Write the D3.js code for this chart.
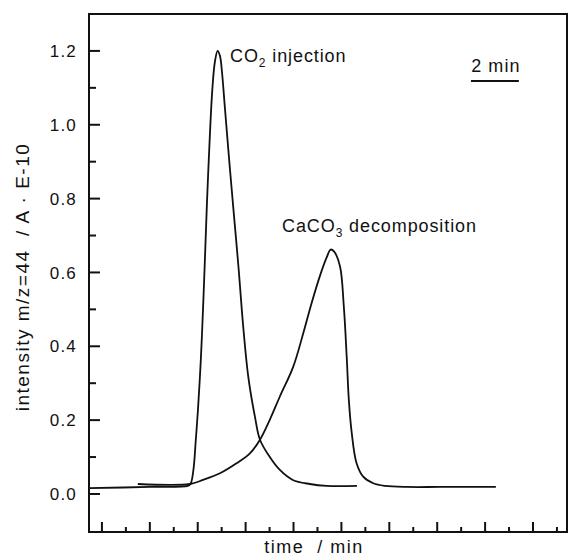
<!DOCTYPE html>
<html>
<head>
<meta charset="utf-8">
<script src="https://cdn.jsdelivr.net/npm/d3@7"></script>
<style>
  html, body { margin: 0; padding: 0; background: #fff; }
  svg { display: block; }
  text { font-family: "Liberation Sans", Arial, Helvetica, sans-serif; fill: #111; }
</style>
</head>
<body>
<svg id="chart" width="569" height="557"></svg>
<script>
// time in minutes, intensity in A·E-10
const co2Time = [-0.54, 2.0, 3.59, 3.70, 3.82, 3.92, 4.01, 4.13, 4.22, 4.30, 4.38, 4.50, 4.61, 4.72, 4.83,
                 4.93, 5.01, 5.13, 5.30, 5.48, 5.70, 5.90, 6.11, 6.39, 6.60, 7.01, 7.43, 7.97, 8.68, 9.39, 10.65];
const co2Value = [0.016, 0.019, 0.022, 0.027, 0.065, 0.147, 0.228, 0.364, 0.499, 0.635, 0.779, 0.961, 1.096, 1.172, 1.20,
                  1.186, 1.145, 1.050, 0.915, 0.779, 0.616, 0.453, 0.318, 0.209, 0.147, 0.100, 0.065, 0.038, 0.027, 0.022, 0.022];

const caco3Time = [1.50, 3.67, 4.22, 4.93, 5.62, 6.18, 6.60, 7.01, 7.43, 7.99, 8.41, 8.76, 9.10, 9.38, 9.55, 9.69,
                   9.94, 10.10, 10.22, 10.31, 10.43, 10.63, 10.91, 11.33, 11.82, 12.73, 14.11, 16.45];
const caco3Value = [0.027, 0.027, 0.038, 0.056, 0.083, 0.110, 0.147, 0.201, 0.264, 0.345, 0.436, 0.518, 0.590, 0.640, 0.662, 0.657,
                    0.617, 0.508, 0.373, 0.255, 0.166, 0.084, 0.047, 0.029, 0.022, 0.019, 0.019, 0.019];

const yMajorTicks = [0.0, 0.2, 0.4, 0.6, 0.8, 1.0, 1.2];
const yMinorTicks = [0.1, 0.3, 0.5, 0.7, 0.9, 1.1];
const xMajorTicks = [0, 2, 4, 6, 8, 10, 12, 14, 16, 18];
const xMinorTicks = [1, 3, 5, 7, 9, 11, 13, 15, 17, 19];
const scaleBarMinutes = 2;

const svg = d3.select("#chart");
const plotLeft = 89, plotRight = 567, plotTop = 14, plotBottom = 532;

const x = d3.scaleLinear().domain([-0.54, 19.42]).range([plotLeft, plotRight]);
const y = d3.scaleLinear().domain([-0.103, 1.3]).range([plotBottom, plotTop]);

// frame
svg.append("path")
  .attr("d", `M${plotLeft},${plotTop}H${plotRight}V${plotBottom}H${plotLeft}Z`)
  .attr("fill", "none").attr("stroke", "#111").attr("stroke-width", 2);

// y ticks (inward)
const yAxis = svg.append("g");
yAxis.selectAll("line.major").data(yMajorTicks).join("line")
  .attr("class", "major")
  .attr("x1", plotLeft).attr("x2", plotLeft + 11)
  .attr("y1", d => y(d)).attr("y2", d => y(d))
  .attr("stroke", "#111").attr("stroke-width", 2);
yAxis.selectAll("line.minor").data(yMinorTicks).join("line")
  .attr("class", "minor")
  .attr("x1", plotLeft).attr("x2", plotLeft + 7)
  .attr("y1", d => y(d)).attr("y2", d => y(d))
  .attr("stroke", "#111").attr("stroke-width", 2);
yAxis.selectAll("text").data(yMajorTicks).join("text")
  .attr("x", 77).attr("y", d => y(d))
  .attr("dy", "0.36em")
  .attr("text-anchor", "end")
  .attr("font-size", 17)
  .attr("letter-spacing", 1.2)
  .text(d3.format(".1f"));

// x ticks (inward, unlabeled)
const xAxis = svg.append("g");
xAxis.selectAll("line.major").data(xMajorTicks).join("line")
  .attr("class", "major")
  .attr("x1", d => x(d)).attr("x2", d => x(d))
  .attr("y1", plotBottom).attr("y2", plotBottom - 10)
  .attr("stroke", "#111").attr("stroke-width", 2);
xAxis.selectAll("line.minor").data(xMinorTicks).join("line")
  .attr("class", "minor")
  .attr("x1", d => x(d)).attr("x2", d => x(d))
  .attr("y1", plotBottom).attr("y2", plotBottom - 5)
  .attr("stroke", "#111").attr("stroke-width", 2);

// axis titles
svg.append("text")
  .attr("x", 314).attr("y", 553)
  .attr("text-anchor", "middle")
  .attr("font-size", 18).attr("letter-spacing", 1.5)
  .attr("xml:space", "preserve")
  .text("time  / min");

svg.append("text")
  .attr("transform", "translate(29,277) rotate(-90)")
  .attr("text-anchor", "middle")
  .attr("font-size", 19).attr("letter-spacing", 1.5)
  .attr("xml:space", "preserve")
  .text("intensity m/z=44  / A · E-10");

// curves
const line = d3.line()
  .x(d => x(d[0])).y(d => y(d[1]))
  .curve(d3.curveCatmullRom.alpha(0.5));

svg.append("path")
  .datum(d3.zip(co2Time, co2Value))
  .attr("d", line)
  .attr("fill", "none").attr("stroke", "#111").attr("stroke-width", 1.8);

svg.append("path")
  .datum(d3.zip(caco3Time, caco3Value))
  .attr("d", line)
  .attr("fill", "none").attr("stroke", "#111").attr("stroke-width", 1.8);

// peak labels
const lab1 = svg.append("text").attr("x", 230).attr("y", 62)
  .attr("font-size", 18).attr("letter-spacing", 0.9);
lab1.append("tspan").text("CO");
lab1.append("tspan").attr("font-size", 12).attr("dy", 5).text("2");
lab1.append("tspan").attr("dy", -5).text(" injection");

const lab2 = svg.append("text").attr("x", 282).attr("y", 232)
  .attr("font-size", 18).attr("letter-spacing", 0.9);
lab2.append("tspan").text("CaCO");
lab2.append("tspan").attr("font-size", 12).attr("dy", 5).text("3");
lab2.append("tspan").attr("dy", -5).text(" decomposition");

// 2 min scale bar
const barStart = 15.41;
svg.append("line")
  .attr("x1", x(barStart)).attr("x2", x(barStart + scaleBarMinutes))
  .attr("y1", 81).attr("y2", 81)
  .attr("stroke", "#111").attr("stroke-width", 2);
svg.append("text")
  .attr("x", (x(barStart) + x(barStart + scaleBarMinutes)) / 2 + 1).attr("y", 72)
  .attr("text-anchor", "middle")
  .attr("font-size", 18).attr("letter-spacing", 1.1)
  .text(`${scaleBarMinutes} min`);
</script>
</body>
</html>
